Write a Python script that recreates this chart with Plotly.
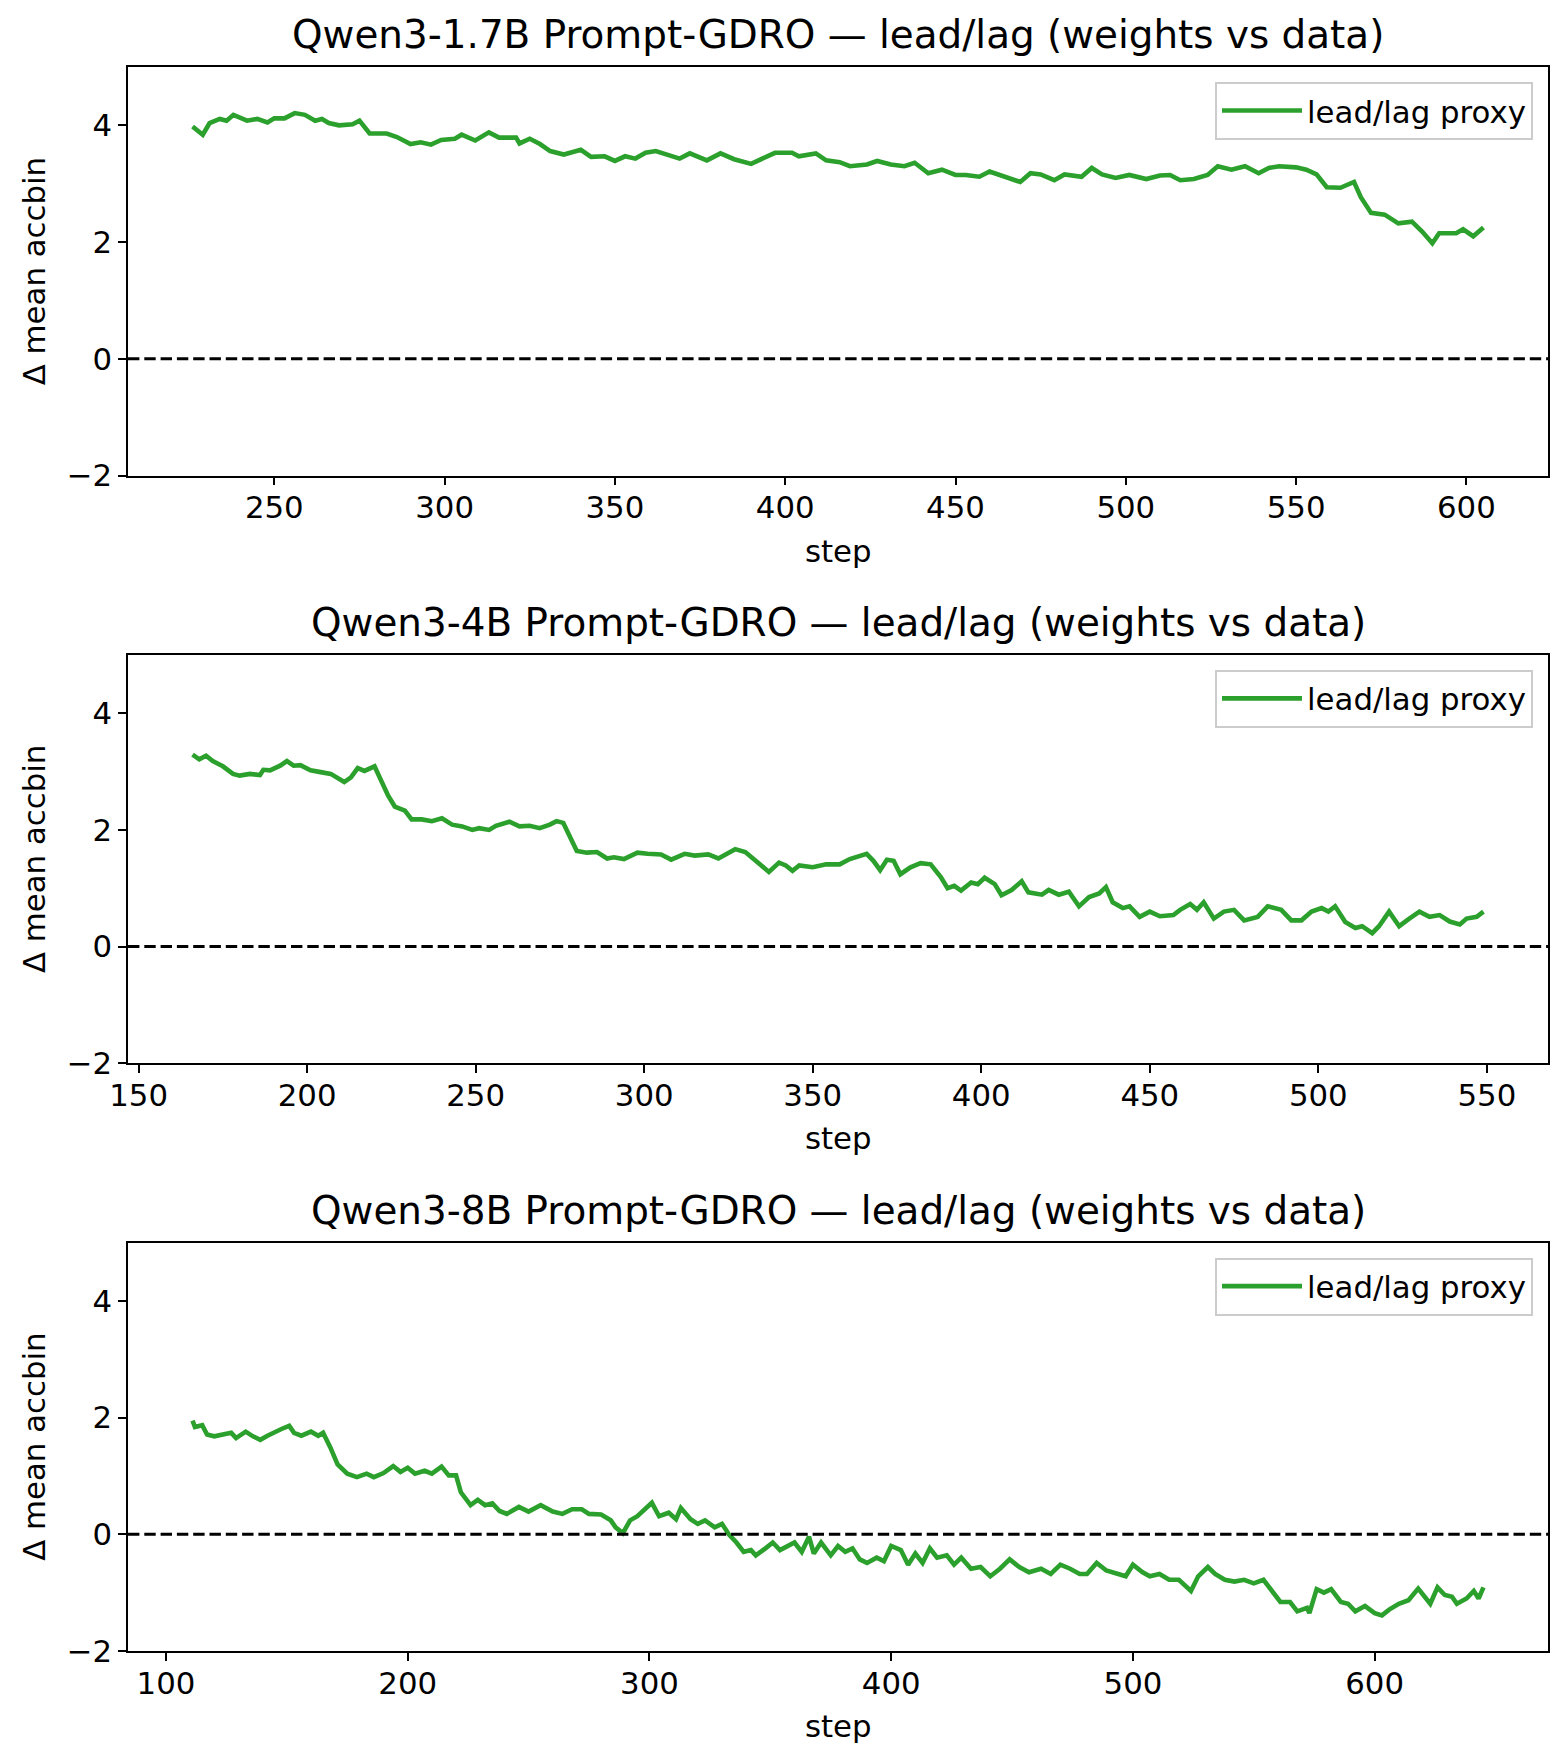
import plotly.graph_objects as go

# ---------------- data ----------------
titles = [
    "Qwen3-1.7B Prompt-GDRO — lead/lag (weights vs data)",
    "Qwen3-4B Prompt-GDRO — lead/lag (weights vs data)",
    "Qwen3-8B Prompt-GDRO — lead/lag (weights vs data)",
]
series_name = "lead/lag proxy"
x_label = "step"
y_label = "Δ mean accbin"
y_ticks = [-2, 0, 2, 4]
y_range = [-2, 5]
x_dticks = [50, 50, 100]

steps_17b = [226, 229, 231, 234, 236, 238, 242, 245, 248, 250, 253, 256, 259, 262, 264, 266,
             269, 273, 275, 278, 283, 286, 290, 293, 296, 299, 303, 305, 309, 313, 316, 321,
             322, 325, 328, 331, 335, 340, 343, 347, 350, 353, 356, 359, 362, 365, 369, 372,
             377, 381, 385, 390, 394, 397, 402, 404, 409, 412, 416, 419, 424, 427, 431, 435,
             438, 442, 446, 450, 453, 457, 460, 465, 469, 472, 475, 479, 482, 487, 490, 493,
             497, 501, 506, 510, 513, 516, 520, 524, 527, 531, 535, 539, 542, 545, 550, 553,
             556, 559, 563, 567, 569, 572, 576, 580, 584, 587, 590, 592, 597, 599, 602, 605]
vals_17b = [3.98, 3.84, 4.04, 4.11, 4.08, 4.18, 4.08, 4.11, 4.05, 4.12, 4.12, 4.21, 4.18, 4.08, 4.11, 4.04,
            4.00, 4.02, 4.08, 3.86, 3.86, 3.80, 3.68, 3.71, 3.67, 3.75, 3.77, 3.84, 3.74, 3.88, 3.79, 3.79,
            3.69, 3.77, 3.68, 3.56, 3.50, 3.58, 3.46, 3.47, 3.39, 3.47, 3.43, 3.53, 3.56, 3.50, 3.43, 3.52,
            3.40, 3.52, 3.42, 3.34, 3.46, 3.53, 3.53, 3.47, 3.52, 3.40, 3.37, 3.30, 3.33, 3.39, 3.33, 3.30,
            3.36, 3.18, 3.24, 3.15, 3.15, 3.12, 3.21, 3.12, 3.03, 3.18, 3.16, 3.06, 3.16, 3.12, 3.27, 3.16,
            3.10, 3.15, 3.08, 3.14, 3.15, 3.06, 3.08, 3.15, 3.30, 3.24, 3.30, 3.18, 3.27, 3.30, 3.28, 3.24,
            3.16, 2.94, 2.93, 3.03, 2.77, 2.50, 2.47, 2.32, 2.35, 2.18, 1.98, 2.15, 2.15, 2.22, 2.10, 2.25]

steps_4b = [166, 168, 170, 172, 175, 178, 180, 183, 186, 187, 189, 192, 194, 196, 198, 201,
            204, 207, 211, 213, 215, 217, 220, 222, 224, 226, 229, 231, 234, 237, 240, 243,
            246, 249, 251, 254, 256, 260, 263, 266, 269, 272, 274, 276, 278, 280, 283, 286,
            289, 291, 294, 298, 301, 305, 308, 312, 315, 319, 322, 325, 327, 330, 333, 335,
            337, 340, 342, 344, 346, 350, 354, 358, 361, 366, 368, 370, 372, 374, 376, 379,
            382, 385, 388, 390, 392, 394, 397, 399, 401, 404, 406, 409, 412, 414, 418, 420,
            423, 426, 429, 432, 435, 437, 439, 442, 444, 447, 450, 453, 457, 459, 462, 464,
            466, 469, 472, 475, 478, 482, 485, 489, 492, 495, 498, 501, 503, 505, 508, 511,
            513, 516, 518, 521, 524, 527, 530, 533, 536, 539, 542, 544, 547, 549]
vals_4b = [3.29, 3.21, 3.27, 3.18, 3.09, 2.96, 2.93, 2.96, 2.94, 3.03, 3.02, 3.10, 3.18, 3.10, 3.11, 3.02,
           2.99, 2.96, 2.82, 2.90, 3.06, 3.01, 3.09, 2.83, 2.59, 2.40, 2.33, 2.18, 2.18, 2.15, 2.20, 2.09,
           2.06, 2.00, 2.03, 2.00, 2.07, 2.14, 2.06, 2.07, 2.03, 2.09, 2.15, 2.12, 1.87, 1.64, 1.61, 1.62,
           1.51, 1.53, 1.50, 1.61, 1.59, 1.58, 1.49, 1.59, 1.56, 1.58, 1.51, 1.61, 1.67, 1.62, 1.47, 1.38,
           1.28, 1.44, 1.39, 1.30, 1.39, 1.36, 1.41, 1.41, 1.50, 1.59, 1.47, 1.31, 1.49, 1.47, 1.24, 1.36,
           1.43, 1.41, 1.19, 1.00, 1.04, 0.96, 1.10, 1.07, 1.18, 1.07, 0.88, 0.97, 1.12, 0.93, 0.89, 0.97,
           0.89, 0.94, 0.69, 0.85, 0.91, 1.02, 0.76, 0.66, 0.69, 0.51, 0.60, 0.52, 0.54, 0.63, 0.73, 0.63,
           0.76, 0.48, 0.60, 0.63, 0.45, 0.51, 0.69, 0.63, 0.45, 0.45, 0.60, 0.66, 0.60, 0.69, 0.42, 0.32,
           0.35, 0.23, 0.35, 0.60, 0.35, 0.48, 0.60, 0.51, 0.54, 0.43, 0.38, 0.48, 0.51, 0.60]

steps_8b = [111, 112, 115, 117, 120, 123, 127, 129, 133, 136, 139, 142, 145, 148, 151, 153,
            156, 160, 163, 165, 168, 171, 175, 179, 183, 186, 190, 194, 197, 200, 203, 207,
            210, 214, 217, 220, 222, 226, 229, 232, 235, 238, 241, 246, 250, 255, 260, 264,
            268, 272, 275, 280, 284, 286, 289, 292, 295, 298, 301, 304, 308, 311, 313, 317,
            320, 323, 327, 330, 333, 336, 339, 342, 344, 348, 351, 354, 357, 360, 363, 366,
            368, 371, 375, 378, 381, 384, 387, 390, 394, 397, 400, 404, 407, 410, 413, 416,
            419, 423, 426, 429, 433, 437, 441, 445, 449, 453, 457, 462, 466, 470, 474, 478,
            481, 485, 489, 493, 497, 500, 504, 507, 511, 515, 519, 524, 527, 531, 534, 538,
            542, 546, 550, 554, 557, 561, 565, 568, 572, 573, 576, 579, 582, 586, 589, 592,
            596, 600, 603, 606, 610, 614, 618, 621, 623, 626, 629, 632, 634, 638, 641, 643, 645]
vals_8b = [1.95, 1.84, 1.87, 1.71, 1.68, 1.71, 1.74, 1.65, 1.76, 1.68, 1.62, 1.69, 1.76, 1.81, 1.86, 1.74,
           1.69, 1.76, 1.69, 1.74, 1.49, 1.20, 1.04, 0.98, 1.04, 0.98, 1.05, 1.17, 1.07, 1.14, 1.04, 1.09,
           1.04, 1.16, 1.01, 1.01, 0.72, 0.50, 0.59, 0.50, 0.53, 0.40, 0.35, 0.47, 0.39, 0.50, 0.39, 0.35,
           0.43, 0.43, 0.35, 0.34, 0.24, 0.12, 0.02, 0.24, 0.31, 0.43, 0.54, 0.31, 0.37, 0.26, 0.45, 0.26,
           0.18, 0.24, 0.12, 0.18, -0.01, -0.14, -0.30, -0.27, -0.36, -0.24, -0.14, -0.27, -0.20, -0.14, -0.30, -0.04,
           -0.33, -0.14, -0.36, -0.20, -0.30, -0.24, -0.43, -0.49, -0.40, -0.46, -0.20, -0.27, -0.52, -0.33, -0.49, -0.24,
           -0.40, -0.36, -0.52, -0.40, -0.59, -0.56, -0.72, -0.59, -0.43, -0.56, -0.65, -0.59, -0.68, -0.52, -0.59, -0.68,
           -0.68, -0.49, -0.62, -0.68, -0.72, -0.52, -0.65, -0.72, -0.68, -0.78, -0.78, -0.97, -0.72, -0.56, -0.68, -0.78,
           -0.81, -0.78, -0.84, -0.78, -0.94, -1.16, -1.16, -1.32, -1.26, -1.35, -0.94, -1.00, -0.94, -1.16, -1.19, -1.32,
           -1.23, -1.35, -1.39, -1.29, -1.19, -1.13, -0.93, -1.07, -1.19, -0.91, -1.04, -1.07, -1.19, -1.10, -0.97, -1.10, -0.91]

all_steps = [steps_17b, steps_4b, steps_8b]
all_vals = [vals_17b, vals_4b, vals_8b]

# ---------------- styling ----------------
W, H = 1565, 1764
ML, MR, MT, MB = 128, 17, 67, 113
PH = H - MT - MB
FONT = "DejaVu Sans"
GREEN = "#2ca02c"
FS = 30.8        # ticks / labels / legend
FS_TITLE = 38.9  # subplot titles
domains = [[0.7421, 1.0], [0.3710, 0.6289], [0.0, 0.2578]]

fig = go.Figure()
annotations = []
shapes = []
layout = dict(
    width=W, height=H,
    margin=dict(l=ML, r=MR, t=MT, b=MB, pad=0),
    paper_bgcolor="white", plot_bgcolor="white",
    font=dict(family=FONT, size=FS, color="black"),
    showlegend=True,
)

for i in range(3):
    n = "" if i == 0 else str(i + 1)
    xs, ys = all_steps[i], all_vals[i]
    lo, hi = min(xs), max(xs)
    pad = 0.05 * (hi - lo)
    leg = "legend" + n
    fig.add_trace(go.Scatter(
        x=xs, y=ys, mode="lines", name=series_name,
        line=dict(color=GREEN, width=4.6),
        xaxis="x" + n, yaxis="y" + n, legend=leg,
    ))
    axis_common = dict(
        showline=True, mirror=True, linecolor="black", linewidth=1.8,
        ticks="outside", ticklen=7.8, tickwidth=1.8, tickcolor="black",
        showgrid=False, zeroline=False,
        tickfont=dict(family=FONT, size=FS, color="black"),
    )
    layout["xaxis" + n] = dict(
        axis_common, domain=[0, 1], anchor="y" + n,
        range=[lo - pad, hi + pad], dtick=x_dticks[i], tick0=0,
        ticklabelstandoff=-4,
    )
    layout["yaxis" + n] = dict(
        axis_common, domain=domains[i], anchor="x" + n,
        range=y_range, tickvals=y_ticks,
    )
    layout[leg] = dict(
        x=1 - 15 / (W - ML - MR), xanchor="right",
        y=domains[i][1] - 15 / PH, yanchor="top",
        xref="paper", yref="paper",
        bgcolor="rgba(255,255,255,0.8)", bordercolor="#cccccc", borderwidth=2,
        itemwidth=80,
        font=dict(family=FONT, size=FS, color="black"),
    )
    # zero reference line
    shapes.append(dict(
        type="line", xref="x" + n + " domain", yref="y" + n,
        x0=0, x1=1, y0=0, y1=0,
        line=dict(color="black", width=3.0, dash="11.4px,4.9px"),
    ))
    # subplot title
    annotations.append(dict(
        text=titles[i], xref="paper", yref="paper", x=0.5, y=domains[i][1],
        xanchor="center", yanchor="bottom", yshift=8, showarrow=False,
        font=dict(family=FONT, size=FS_TITLE, color="black"),
    ))
    # axis titles
    annotations.append(dict(
        text=x_label, xref="paper", yref="paper", x=0.5, y=domains[i][0],
        xanchor="center", yanchor="middle", yshift=-75, showarrow=False,
        font=dict(family=FONT, size=FS, color="black"),
    ))
    annotations.append(dict(
        text=y_label, xref="paper", yref="paper", x=0,
        y=(domains[i][0] + domains[i][1]) / 2,
        xanchor="center", yanchor="middle", xshift=-94, textangle=-90, showarrow=False,
        font=dict(family=FONT, size=FS, color="black"),
    ))

layout["annotations"] = annotations
layout["shapes"] = shapes
fig.update_layout(**layout)
fig.write_html("out.html", config={"displayModeBar": False},
               post_script="document.body.style.margin='0';")
